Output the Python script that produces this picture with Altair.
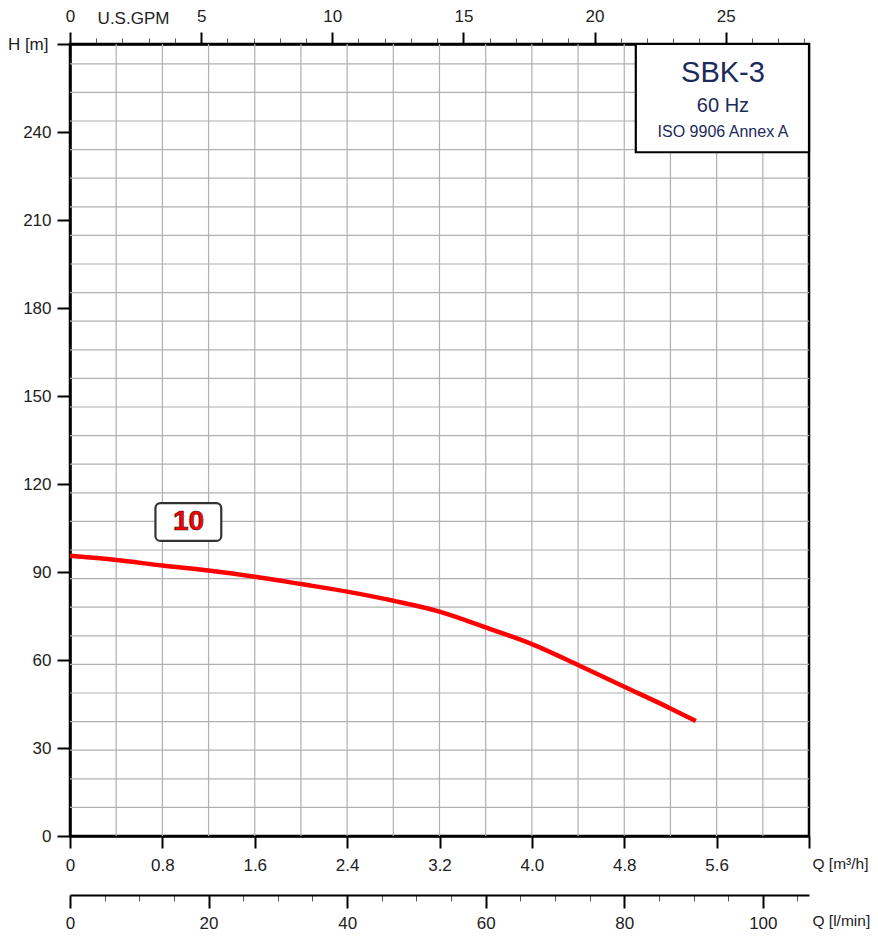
import altair as alt
import pandas as pd

# ---- data ----
flow_m3h = [0, 0.4, 0.8, 1.2, 1.6, 2.0, 2.4, 2.8, 3.2, 3.6, 4.0, 4.4, 4.8, 5.2, 5.42]
head_m = [95.5, 94.1, 92.2, 90.5, 88.4, 85.9, 83.3, 80.2, 76.5, 71.1, 65.4, 58.3, 50.9, 43.5, 39.2]

x_grid = [0.4, 0.8, 1.2, 1.6, 2.0, 2.4, 2.8, 3.2, 3.6, 4.0, 4.4, 4.8, 5.2, 5.6, 6.0]
y_grid = [9.75, 19.5, 29.25, 39.0, 48.75, 58.5, 68.25, 78.0, 87.75, 97.5, 107.25, 117.0,
          126.75, 136.5, 146.25, 156.0, 165.75, 175.5, 185.25, 195.0, 204.75, 214.5,
          224.25, 234.0, 243.75, 253.5, 263.25]
x_ticks = [0, 0.8, 1.6, 2.4, 3.2, 4.0, 4.8, 5.6, 6.4]
y_ticks = [0, 30, 60, 90, 120, 150, 180, 210, 240, 270]
gpm_major = [0, 5, 10, 15, 20, 25]
gpm_minor = list(range(0, 29))
lmin_major = [0, 20, 40, 60, 80, 100]
lmin_minor = list(range(0, 106, 5))

curve_label = ["10"]
curve_label_q = [1.026]
curve_label_h = [107.3]
label_box_q = [0.74, 1.31]
label_box_h = [100.6, 113.5]

legend_lines = ["SBK-3", "60 Hz", "ISO 9906 Annex A"]
legend_q = [5.655, 5.655, 5.655]
legend_h = [260.2, 248.9, 240.1]
legend_sizes = [29, 20, 16]
legend_box_q = [4.90, 6.4]
legend_box_h = [233.1, 270]

Q_MAX = 6.4
GPM_MAX = Q_MAX / 0.227125
LMIN_MAX = Q_MAX * 1000 / 60
H_MAX = 270

FONT = "Liberation Sans"
INK = "#222222"
FS = 17
W, H = 739, 792

def xs():
    return alt.Scale(domain=[0, Q_MAX], nice=False, zero=False)

ys = alt.Scale(domain=[0, H_MAX], nice=False, zero=False)

x_axis = alt.Axis(
    orient="bottom", values=x_ticks, grid=False, tickSize=12, tickWidth=2, tickColor="black",
    domainColor="black", domainWidth=2.5, labelFont=FONT, labelFontSize=FS,
    labelColor=INK, labelPadding=9, labelFlush=False,
    labelExpr="datum.value > 6 ? '' : format(datum.value, '.1f') == '0.0' ? '0' : format(datum.value, '.1f')",
    title="Q [m³/h]", titleFont=FONT, titleFontSize=15.5, titleFontWeight="normal",
    titleColor=INK, titleX=742, titleY=27, titleAlign="left", titleBaseline="middle",
    titleAnchor="start",
)
y_axis = alt.Axis(
    orient="left", values=y_ticks, grid=False, tickSize=13, tickWidth=2, tickColor="black",
    domainColor="black", domainWidth=2.5, labelFont=FONT, labelFontSize=FS,
    labelColor=INK, labelPadding=6, labelFlush=False,
    labelExpr="datum.value > 260 ? '' : datum.label",
    title="H [m]", titleFont=FONT, titleFontSize=FS, titleFontWeight="normal",
    titleColor=INK, titleAngle=0, titleX=-22, titleY=0, titleAlign="right",
    titleBaseline="middle", titleAnchor="start",
)

def Y(field):
    return alt.Y(field, scale=ys, axis=y_axis)

gv = pd.DataFrame({"q": x_grid})
gh = pd.DataFrame({"h": y_grid})
grid_v = alt.Chart(gv).mark_rule(color="#b0b0b0", strokeWidth=1.2).encode(
    x=alt.X("q:Q", scale=xs(), axis=x_axis)
)
grid_h = alt.Chart(gh).mark_rule(color="#b0b0b0", strokeWidth=1.2).encode(
    y=Y("h:Q")
)

cdf = pd.DataFrame({"q": flow_m3h, "h": head_m})
curve = alt.Chart(cdf).mark_line(color="#ff0000", strokeWidth=4.5, interpolate="monotone").encode(
    x=alt.X("q:Q", scale=xs(), axis=None),
    y=Y("h:Q"),
)

bdf = pd.DataFrame({"q1": [label_box_q[0]], "q2": [label_box_q[1]],
                    "h1": [label_box_h[0]], "h2": [label_box_h[1]]})
label_box = alt.Chart(bdf).mark_rect(fill="white", stroke="#333333", strokeWidth=2.2, cornerRadius=5).encode(
    x=alt.X("q1:Q", scale=xs(), axis=None), x2="q2",
    y=Y("h1:Q"), y2="h2",
)
ldf = pd.DataFrame({"t": curve_label, "q": curve_label_q, "h": curve_label_h})
label_text = alt.Chart(ldf).mark_text(
    font=FONT, fontSize=28, fontWeight="bold", color="#ff0000",
    stroke="#3a1010", strokeWidth=0.7, baseline="middle", align="center", dy=1,
).encode(
    x=alt.X("q:Q", scale=xs(), axis=None),
    y=Y("h:Q"),
    text="t:N",
)

lbdf = pd.DataFrame({"q1": [legend_box_q[0]], "q2": [legend_box_q[1]],
                     "h1": [legend_box_h[0]], "h2": [legend_box_h[1]]})
legend_box = alt.Chart(lbdf).mark_rect(fill="white", stroke="black", strokeWidth=2.2).encode(
    x=alt.X("q1:Q", scale=xs(), axis=None), x2="q2",
    y=Y("h1:Q"), y2="h2",
)
legend_texts = []
for t, q, h, s in zip(legend_lines, legend_q, legend_h, legend_sizes):
    d = pd.DataFrame({"t": [t], "q": [q], "h": [h]})
    legend_texts.append(
        alt.Chart(d).mark_text(font=FONT, fontSize=s, color="#1d2a5c",
                               baseline="middle", align="center").encode(
            x=alt.X("q:Q", scale=xs(), axis=None),
            y=Y("h:Q"),
            text="t:N",
        )
    )

# ---- secondary axes ----
def gpm_s():
    return alt.Scale(domain=[0, GPM_MAX], nice=False, zero=False)

def lmin_s():
    return alt.Scale(domain=[0, LMIN_MAX], nice=False, zero=False)

gpm_minor_layer = alt.Chart(pd.DataFrame({"v": gpm_minor})).mark_point(opacity=0).encode(
    x=alt.X("v:Q", scale=gpm_s(), axis=alt.Axis(
        orient="top", values=gpm_minor, tickSize=6, tickWidth=1, tickColor="#555555",
        labels=False, grid=False, domainColor="black", domainWidth=2.5, title=None))
)
gpm_major_layer = alt.Chart(pd.DataFrame({"v": gpm_major})).mark_point(opacity=0).encode(
    x=alt.X("v:Q", scale=gpm_s(), axis=alt.Axis(
        orient="top", values=gpm_major, tickSize=12, tickWidth=2, tickColor="black",
        labels=True, labelFont=FONT, labelFontSize=FS, labelColor=INK, labelPadding=7,
        labelFlush=False, grid=False, domain=False,
        title="U.S.GPM", titleFont=FONT, titleFontSize=FS, titleFontWeight="normal",
        titleColor=INK, titleX=63, titleY=-26, titleAlign="center", titleBaseline="middle",
        titleAnchor="start"))
)
lmin_minor_layer = alt.Chart(pd.DataFrame({"v": lmin_minor})).mark_point(opacity=0).encode(
    x=alt.X("v:Q", scale=lmin_s(), axis=alt.Axis(
        orient="bottom", offset=59, values=lmin_minor, tickSize=6, tickWidth=1,
        tickColor="#555555", labels=False, grid=False, domainColor="black",
        domainWidth=2.2, title=None))
)
lmin_major_layer = alt.Chart(pd.DataFrame({"v": lmin_major})).mark_point(opacity=0).encode(
    x=alt.X("v:Q", scale=lmin_s(), axis=alt.Axis(
        orient="bottom", offset=59, values=lmin_major, tickSize=13, tickWidth=2,
        tickColor="black", labels=True, labelFont=FONT, labelFontSize=FS,
        labelColor=INK, labelPadding=7, labelFlush=False, grid=False, domain=False,
        title="Q [l/min]", titleFont=FONT, titleFontSize=15.5, titleFontWeight="normal",
        titleColor=INK, titleX=742, titleY=25, titleAlign="left", titleBaseline="middle",
        titleAnchor="start"))
)

chart = alt.layer(
    grid_v, grid_h, curve, label_box, label_text, legend_box, *legend_texts,
    gpm_minor_layer, gpm_major_layer, lmin_minor_layer, lmin_major_layer
).resolve_scale(x="independent").properties(
    width=W, height=H,
    autosize=alt.AutoSizeParams(type="none"),
    padding={"left": 62, "top": 36, "right": 61, "bottom": 96},
    background="white",
).configure_view(stroke="black", strokeWidth=2.5)

chart.save("out.html", embed_options={"renderer": "svg", "actions": False})
